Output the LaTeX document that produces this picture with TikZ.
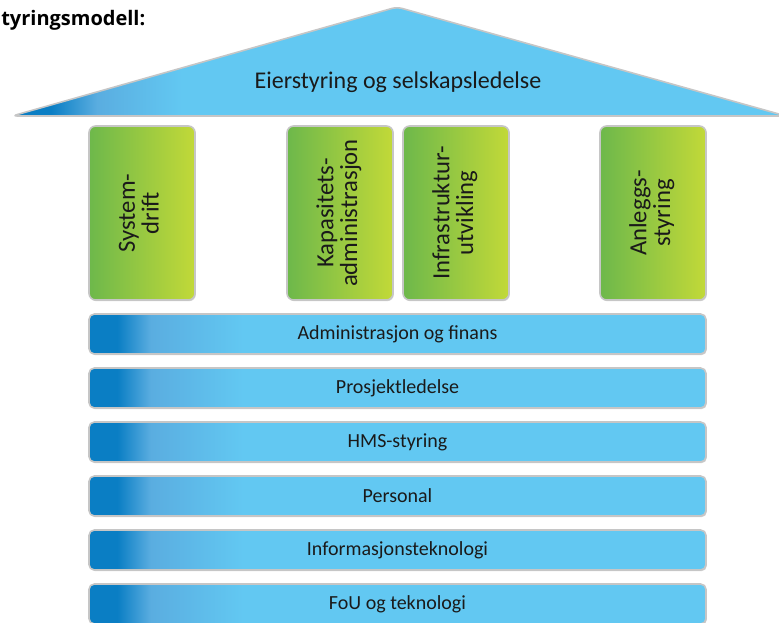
\documentclass[tikz,border=0pt]{standalone}
\usepackage{fontspec}
\setmainfont{Carlito}
\newfontfamily\titlefont{Open Sans}
\usetikzlibrary{shadows}
\definecolor{bluedark}{HTML}{0A7EC4}
\definecolor{bluemid}{HTML}{5AADE0}
\definecolor{bluelight}{HTML}{62C8F2}
\definecolor{greenleft}{HTML}{6DB84B}
\definecolor{greenright}{HTML}{C2D938}
\definecolor{textdark}{HTML}{1A1A1A}
\pgfdeclarehorizontalshading{barshade}{100bp}{color(0bp)=(bluedark); color(27.3bp)=(bluedark); color(30bp)=(bluemid); color(37.5bp)=(bluelight); color(100bp)=(bluelight)}
\pgfdeclarehorizontalshading{roofshade}{100bp}{color(0bp)=(bluedark); color(27.5bp)=(bluedark); color(30.5bp)=(bluemid); color(36bp)=(bluelight); color(100bp)=(bluelight)}
\tikzset{
  boxline/.style={draw=gray!45, line width=1.2pt},
  bar/.style={boxline, rounded corners=4pt, shading=barshade, inner sep=0pt,
    minimum width=462.75pt, minimum height=30pt, text=textdark,
    drop shadow={shadow xshift=0.6pt, shadow yshift=-0.9pt, fill=gray!70, opacity=0.5}},
  pillar/.style={boxline, rounded corners=5pt, left color=greenleft, right color=greenright,
    inner sep=0pt, minimum width=79.5pt, minimum height=130.5pt, text=textdark,
    font=\fontsize{18.5}{16.5}\selectfont,
    drop shadow={shadow xshift=0.6pt, shadow yshift=-0.9pt, fill=gray!70, opacity=0.5}},
}
\newcommand{\uptext}[1]{\rotatebox{90}{\begin{tabular}{@{}c@{}}#1\end{tabular}}}
\begin{document}
\begin{tikzpicture}[x=0.75pt, y=-0.75pt, font=\fontsize{15}{17}\selectfont, line join=round]
  \useasboundingbox (0,0) rectangle (779,622);
  \clip (0,0) rectangle (779,622);
  % title, cut at the left edge
  \node[anchor=base west, inner sep=0pt, font=\titlefont\bfseries\fontsize{15}{17}\selectfont] (title) at (1,25) {tyringsmodell:};
  % roof
  \shade[shading=roofshade, draw=gray!45, line width=1.2pt, rounded corners=4pt]
    (12,116) -- (397,7) -- (786,116) -- cycle;
  \node[text=textdark, font=\fontsize{18}{20}\selectfont] (roof) at (398,82) {Eierstyring og selskapsledelse};
  % pillars
  \node[pillar] (sysdrift) at (142,213) {\uptext{System-\\drift}};
  \node[pillar] (kapadm) at (340,213) {\uptext{Kapasitets-\\administrasjon}};
  \node[pillar] (infra) at (456,213) {\uptext{Infrastruktur-\\utvikling}};
  \node[pillar] (anlegg) at (653,213) {\uptext{Anleggs-\\styring}};
  % foundation bars
  \foreach \y/\name/\txt in {334/admfin/Administrasjon og finans, 388/prosjekt/Prosjektledelse,
      442/hms/HMS-styring, 496/personal/Personal, 550/it/Informasjonsteknologi,
      604/fou/FoU og teknologi}{
    \node[bar] (\name) at (397.5,\y) {\txt};
  }
\end{tikzpicture}
\end{document}
